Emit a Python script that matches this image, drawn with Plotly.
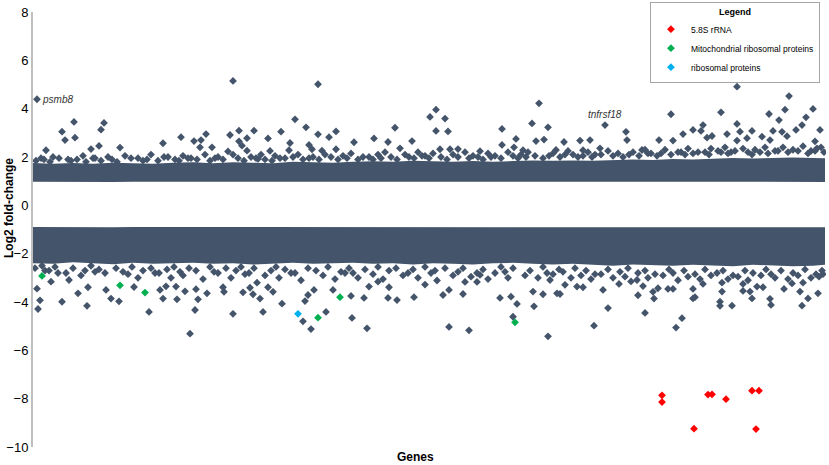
# Manhattan-style fold-change plot of genes
import plotly.graph_objs as go

# gene positions for the dense band outlines (every 20 genes)
band_x = [0, 20, 40, 60, 80, 100, 120, 140, 160, 180, 200, 220, 240, 260, 280, 300, 320, 340, 360, 380,
          400, 420, 440, 460, 480, 500, 520, 540, 560, 580, 600, 620, 640, 660, 680, 700, 720, 740, 760, 780, 792]
up_band_low = [0.98, 0.97, 0.98, 0.98, 0.97, 0.98, 0.98, 0.97, 0.98, 0.98, 0.97, 0.98, 0.98, 0.97, 0.98, 0.98, 0.97,
               0.98, 0.98, 0.97, 0.98, 0.98, 0.97, 0.98, 0.98, 0.97, 0.98, 0.98, 0.97, 0.98, 0.98, 0.97, 0.98, 0.98,
               0.97, 0.98, 0.98, 0.97, 0.98, 0.98, 0.97]
up_band_high = [1.75, 1.72, 1.75, 1.72, 1.76, 1.74, 1.72, 1.76, 1.78, 1.74, 1.78, 1.76, 1.74, 1.8, 1.78, 1.76, 1.8,
                1.82, 1.8, 1.84, 1.82, 1.8, 1.83, 1.8, 1.83, 1.86, 1.84, 1.86, 1.84, 1.87, 1.9, 1.88, 1.92, 1.9, 1.93,
                1.96, 1.94, 1.96, 1.98, 1.96, 1.95]
low_band_high = [-0.9, -0.91, -0.9, -0.9, -0.91, -0.9, -0.9, -0.91, -0.9, -0.9, -0.91, -0.9, -0.9, -0.91, -0.9, -0.9,
                 -0.91, -0.9, -0.9, -0.91, -0.9, -0.9, -0.91, -0.9, -0.9, -0.91, -0.9, -0.9, -0.91, -0.9, -0.9, -0.91,
                 -0.9, -0.9, -0.91, -0.9, -0.9, -0.91, -0.9, -0.9, -0.91]
low_band_low = [-2.4, -2.42, -2.36, -2.4, -2.44, -2.38, -2.42, -2.4, -2.38, -2.42, -2.4, -2.45, -2.4, -2.38, -2.42,
                -2.4, -2.38, -2.42, -2.4, -2.45, -2.4, -2.42, -2.45, -2.4, -2.38, -2.42, -2.45, -2.42, -2.45, -2.5,
                -2.45, -2.48, -2.5, -2.46, -2.48, -2.52, -2.46, -2.5, -2.52, -2.5, -2.46]

# up-regulated genes outside the dense band
up_x = [4, 200, 41, 71, 29, 68, 32, 42, 13, 58, 66, 87, 130, 148, 161, 168, 173, 167, 179, 197, 206, 214, 221, 235,
        206, 209, 214, 237, 225, 195, 248, 285, 262, 273, 285, 296, 303, 257, 256, 276, 279, 289, 303, 321, 341,
        355, 362, 367, 379, 397, 403, 412, 403, 415, 407, 417, 425, 447, 469, 469, 483, 481, 490, 499, 506, 503,
        511, 515, 635, 704, 756, 638, 688, 736, 752, 780, 746, 773, 572, 593, 704, 787, 769, 763, 660, 670, 650,
        668, 674, 679, 694, 707, 719, 729, 740, 749, 754, 626, 531, 547, 557, 550, 567, 594, 609, 640, 704, 714,
        737, 782, 523, 784]
up_y = [4.39, 5.15, 3.45, 3.41, 3.05, 3.13, 2.70, 2.80, 2.28, 2.33, 2.46, 2.39, 2.57, 2.82, 2.66, 2.70, 2.95, 2.40,
        2.40, 2.91, 3.09, 2.78, 3.09, 2.77, 2.65, 2.47, 2.26, 2.25, 1.92, 2.23, 3.05, 5.01, 3.56, 3.23, 2.94, 2.82,
        3.06, 2.58, 2.28, 2.50, 2.32, 2.26, 2.32, 2.61, 2.77, 2.62, 3.21, 2.36, 2.66, 3.66, 3.96, 3.59, 3.08, 3.06,
        2.32, 2.32, 2.33, 2.24, 3.16, 2.50, 2.75, 2.40, 2.28, 3.39, 4.22, 2.66, 2.72, 3.23, 5.60, 4.91, 4.52, 3.77,
        3.85, 3.78, 3.96, 3.99, 3.53, 3.64, 3.32, 3.04, 3.37, 3.12, 3.32, 3.12, 3.12, 3.32, 2.95, 3.08, 2.80, 2.87,
        2.95, 3.05, 3.08, 2.84, 3.08, 3.04, 2.86, 2.70, 2.62, 2.68, 2.70, 2.28, 2.36, 2.70, 2.29, 2.68, 2.68, 2.78,
        2.70, 2.65, 2.29, 2.36]

# ragged top edge of the up-regulated band (outer row, then inner row)
up_edge_x = [8, 20, 35, 50, 62, 75, 92, 105, 118, 135, 150, 158, 172, 185, 200, 218, 228, 242, 252, 265, 280, 292,
             310, 318, 330, 345, 352, 372, 385, 392, 400, 420, 432, 440, 455, 462, 475, 488, 495, 520, 535, 540, 555,
             562, 575, 585, 600, 612, 618, 632, 645, 655, 665, 678, 685, 692, 698, 710, 722, 732, 742, 750, 760, 770,
             778, 788]
up_edge_y = [1.95, 2.0, 1.9, 2.05, 1.95, 2.0, 2.05, 1.95, 2.1, 2.0, 2.05, 1.95, 2.1, 2.0, 2.1, 2.0, 2.1, 2.05, 1.95,
             2.1, 2.0, 2.1, 2.05, 2.15, 2.0, 2.1, 2.2, 2.1, 2.2, 2.05, 2.15, 2.1, 2.2, 2.05, 2.15, 2.05, 2.2, 2.1, 2.2,
             2.15, 2.25, 2.1, 2.2, 2.1, 2.25, 2.15, 2.2, 2.3, 2.15, 2.3, 2.2, 2.35, 2.2, 2.35, 2.25, 2.4, 2.2, 2.35,
             2.3, 2.4, 2.25, 2.4, 2.3, 2.45, 2.25, 2.4]
up_inner_x = [3, 11, 17, 26, 38, 44, 53, 60, 68, 79, 84, 98, 110, 114, 125, 131, 142, 146, 155, 164, 177, 182, 190,
              205, 211, 223, 232, 239, 247, 260, 270, 276, 286, 298, 305, 314, 325, 336, 340, 348, 358, 364, 376, 381,
              389, 396, 408, 414, 425, 436, 445, 450, 458, 468, 480, 485, 493, 502, 510, 516, 527, 532, 545, 550, 559,
              568, 580, 590, 596, 606, 615, 624, 628, 638, 648, 652, 660, 672, 676, 688, 695, 702, 715, 719, 727, 735,
              745, 755, 765, 775, 782, 791]
up_inner_y = [1.85, 1.9, 1.8, 1.95, 1.85, 1.9, 1.8, 1.95, 1.85, 1.9, 1.8, 1.95, 1.85, 1.9, 1.85, 2.0, 1.9, 1.85,
              1.95, 1.9, 1.85, 1.95, 1.9, 1.95, 1.85, 1.95, 1.9, 1.85, 1.95, 2.0, 1.9, 1.95, 1.9, 2.0, 1.9, 1.95, 1.9,
              2.0, 1.9, 1.95, 2.0, 1.9, 2.0, 1.95, 2.05, 1.95, 2.0, 1.9, 2.0, 1.95, 2.0, 1.9, 2.0, 1.95, 2.05, 1.95,
              2.0, 2.05, 1.95, 2.05, 2.0, 2.1, 2.0, 2.05, 2.0, 2.1, 2.05, 2.0, 2.1, 2.05, 2.15, 2.05, 2.15, 2.1, 2.2,
              2.1, 2.15, 2.2, 2.1, 2.2, 2.15, 2.25, 2.2, 2.1, 2.2, 2.15, 2.25, 2.2, 2.25, 2.15, 2.25, 2.2]

# down-regulated genes outside the dense band
down_x = [4, 7, 5, 29, 45, 54, 78, 86, 116, 157, 162, 200, 230, 249, 130, 144, 165, 152, 174, 191, 220, 227, 210,
          101, 127, 133, 143, 163, 190, 217, 224, 235, 240, 73, 55, 36, 18, 270, 278, 293, 319, 334, 416, 436, 480,
          515, 501, 484, 510, 500, 478, 467, 275, 281, 272, 300, 318, 331, 355, 364, 381, 336, 356, 345, 392, 410,
          416, 430, 432, 444, 404, 447, 524, 517, 561, 575, 612, 649, 643, 699, 687, 687, 621, 605, 662, 527, 737,
          738, 769, 785, 775, 767, 719, 717, 730, 724, 710, 751, 759, 770, 786, 660, 670, 689, 689, 640, 635, 625,
          610, 604, 620, 586, 570, 550, 544, 532, 660, 710]
down_y = [-3.45, -3.93, -4.29, -3.99, -3.64, -4.16, -3.86, -3.97, -4.41, -5.31, -4.33, -4.49, -4.41, -4.07, -3.86,
          -3.89, -3.89, -3.56, -3.64, -3.58, -3.68, -3.86, -3.60, -3.38, -3.50, -3.35, -3.36, -3.47, -3.39, -3.41,
          -3.20, -3.39, -3.58, -3.50, -3.39, -3.09, -3.16, -4.80, -5.12, -4.41, -4.66, -5.09, -5.03, -5.17, -4.61,
          -5.42, -4.18, -4.08, -3.68, -3.57, -3.78, -3.83, -3.71, -3.50, -3.96, -3.50, -3.75, -3.83, -3.83, -3.92,
          -3.80, -3.36, -3.39, -3.16, -3.28, -3.71, -3.50, -3.67, -3.17, -3.17, -3.11, -2.88, -3.64, -3.09, -4.98,
          -4.25, -4.45, -4.67, -5.06, -4.15, -4.16, -3.99, -3.86, -3.72, -3.80, -3.67, -3.87, -4.12, -4.15, -3.64,
          -3.85, -3.57, -3.85, -3.57, -3.39, -3.36, -3.54, -3.46, -3.23, -3.20, -2.95, -3.46, -3.25, -3.20, -3.57,
          -3.46, -3.46, -3.43, -3.34, -3.09, -3.58, -3.25, -3.50, -3.39, -3.36, -3.29, -3.85, -3.25]

# ragged bottom edge of the down-regulated band (outer row, then inner row)
down_edge_x = [12, 25, 48, 62, 95, 105, 122, 138, 150, 170, 185, 198, 212, 232, 246, 258, 268, 290, 302, 312, 325,
               340, 350, 370, 385, 398, 420, 438, 455, 462, 475, 492, 505, 520, 538, 548, 558, 568, 580, 592, 598,
               615, 630, 645, 655, 667, 678, 695, 705, 715, 728, 742, 755, 765, 778, 790]
down_edge_y = [-2.7, -2.8, -2.9, -2.75, -2.85, -3.0, -2.8, -3.0, -2.9, -3.05, -2.8, -3.0, -2.85, -2.9, -3.0, -2.8,
               -3.1, -2.9, -3.05, -2.8, -3.0, -2.85, -3.05, -2.9, -3.0, -2.8, -2.9, -2.95, -3.05, -2.8, -3.0, -2.9,
               -3.0, -2.85, -3.0, -2.9, -3.05, -2.85, -3.0, -2.95, -3.15, -3.0, -2.9, -3.1, -2.95, -3.05, -2.9, -3.05,
               -2.95, -3.1, -2.9, -3.0, -3.05, -2.9, -3.0, -2.85]
down_inner_x = [2, 9, 16, 22, 33, 40, 52, 58, 66, 72, 83, 90, 99, 110, 118, 126, 134, 141, 147, 156, 163, 177, 181,
                193, 203, 208, 216, 221, 238, 243, 252, 262, 275, 283, 295, 308, 316, 320, 332, 345, 356, 363, 375,
                380, 392, 402, 412, 425, 430, 444, 450, 468, 472, 480, 497, 510, 514, 526, 530, 542, 553, 562, 575,
                587, 595, 605, 612, 622, 636, 640, 651, 662, 672, 684, 690, 700, 712, 720, 733, 738, 748, 760, 772,
                783, 789]
down_inner_y = [-2.6, -2.5, -2.7, -2.55, -2.8, -2.6, -2.7, -2.5, -2.65, -2.8, -2.6, -2.75, -2.55, -2.7, -2.6, -2.8,
                -2.65, -2.55, -2.75, -2.6, -2.7, -2.55, -2.75, -2.6, -2.7, -2.55, -2.8, -2.6, -2.7, -2.55, -2.65,
                -2.8, -2.6, -2.7, -2.55, -2.75, -2.6, -2.8, -2.65, -2.55, -2.7, -2.6, -2.8, -2.65, -2.55, -2.7, -2.6,
                -2.75, -2.6, -2.8, -2.65, -2.55, -2.75, -2.6, -2.7, -2.55, -2.8, -2.65, -2.75, -2.6, -2.7, -2.85,
                -2.65, -2.75, -2.6, -2.8, -2.7, -2.85, -2.65, -2.8, -2.7, -2.85, -2.65, -2.8, -2.7, -2.9, -2.7, -2.8,
                -2.65, -2.85, -2.7, -2.8, -2.65, -2.85, -2.7]

# highlighted gene groups
rrna_x = [629, 629, 661, 675, 679, 693, 719, 726, 723]
rrna_y = [-7.86, -8.14, -9.24, -7.83, -7.82, -8.02, -7.67, -7.67, -9.26]
mito_x = [9, 87, 112, 307, 285, 482]
mito_y = [-2.92, -3.31, -3.61, -3.80, -4.65, -4.84]
ribo_x = [265]
ribo_y = [-4.49]

slate = '#44546A'
msize = 6

data = [
    go.Scatter(x=band_x, y=up_band_low, mode='lines', line=dict(width=0, color=slate),
               showlegend=False, hoverinfo='skip'),
    go.Scatter(x=band_x, y=up_band_high, mode='lines', line=dict(width=0, color=slate),
               fill='tonexty', fillcolor=slate, showlegend=False, hoverinfo='skip'),
    go.Scatter(x=band_x, y=low_band_high, mode='lines', line=dict(width=0, color=slate),
               showlegend=False, hoverinfo='skip'),
    go.Scatter(x=band_x, y=low_band_low, mode='lines', line=dict(width=0, color=slate),
               fill='tonexty', fillcolor=slate, showlegend=False, hoverinfo='skip'),
    go.Scatter(x=up_inner_x + up_edge_x + up_x, y=up_inner_y + up_edge_y + up_y, mode='markers',
               showlegend=False, marker=dict(symbol='diamond', size=msize, color=slate)),
    go.Scatter(x=down_inner_x + down_edge_x + down_x, y=down_inner_y + down_edge_y + down_y, mode='markers',
               showlegend=False, marker=dict(symbol='diamond', size=msize, color=slate)),
    go.Scatter(x=rrna_x, y=rrna_y, mode='markers', name='5.8S rRNA',
               marker=dict(symbol='diamond', size=msize, color='#FF0000')),
    go.Scatter(x=mito_x, y=mito_y, mode='markers', name='Mitochondrial ribosomal proteins',
               marker=dict(symbol='diamond', size=msize, color='#00B050')),
    go.Scatter(x=ribo_x, y=ribo_y, mode='markers', name='ribosomal proteins',
               marker=dict(symbol='diamond', size=msize, color='#00B0F0')),
]

layout = go.Layout(
    width=829, height=465,
    margin=dict(l=33, r=3, t=12, b=18, autoexpand=False),
    paper_bgcolor='white', plot_bgcolor='white',
    font=dict(family='Arial, Liberation Sans, sans-serif', color='black'),
    xaxis=dict(range=[0, 793], showgrid=False, zeroline=False, showline=False,
               showticklabels=False, ticks=''),
    yaxis=dict(range=[-10, 8], dtick=2, showgrid=False, zeroline=False, showline=True,
               linecolor='#BFBFBF', linewidth=2, ticks='', tickfont=dict(size=13)),
    legend=dict(x=0.778, y=1.023, xanchor='left', yanchor='top', bgcolor='white',
                bordercolor='#A6A6A6', borderwidth=1, font=dict(size=8.5), traceorder='normal',
                itemwidth=30, tracegroupgap=0,
                title=dict(text='<b>Legend</b>', side='top center', font=dict(size=9))),
    annotations=[
        dict(x=4, y=4.39, text='<i>psmb8</i>', showarrow=False, xanchor='left', xshift=3,
             font=dict(size=10, color='#333333')),
        dict(x=572, y=3.32, text='<i>tnfrsf18</i>', showarrow=False, yanchor='bottom', yshift=3,
             font=dict(size=10, color='#333333')),
        dict(x=0.482, y=0, xref='paper', yref='paper', text='<b>Genes</b>', showarrow=False,
             yanchor='top', yshift=-1, font=dict(size=12)),
        dict(x=-0.03, y=-0.1, xref='paper', yref='y', text='<b>Log2 fold-change</b>', showarrow=False,
             textangle=-90, xanchor='center', font=dict(size=12)),
    ],
)

fig = go.Figure(data=data, layout=layout)
# drop the page's default body margin so the 829x465 figure sits at the window origin
fig.write_html('out.html', config={'displayModeBar': False},
               post_script="document.body.style.margin = '0';")
